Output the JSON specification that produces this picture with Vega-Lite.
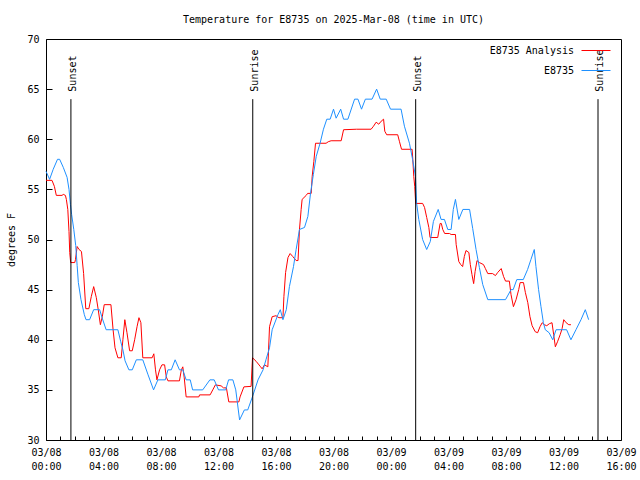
{
  "$schema": "https://vega.github.io/schema/vega-lite/v6.json",
  "width": 575,
  "height": 401,
  "autosize": "none",
  "padding": {"left": 46, "top": 39, "right": 19, "bottom": 40},
  "background": "white",
  "title": {"text": "Temperature for E8735 on 2025-Mar-08 (time in UTC)", "font": "DejaVu Sans Mono", "fontSize": 10, "fontWeight": "normal", "color": "black", "anchor": "middle", "offset": 9},
  "config": {"view": {"stroke": "black", "strokeWidth": 1}, "font": "DejaVu Sans Mono"},
  "datasets": {
    "analysis": [
      {"t":"2025-03-08T00:00:00Z","v":55.9},{"t":"2025-03-08T00:25:00Z","v":55.9},{"t":"2025-03-08T00:35:00Z","v":55.3},{"t":"2025-03-08T00:43:00Z","v":54.4},{"t":"2025-03-08T01:07:00Z","v":54.4},{"t":"2025-03-08T01:12:00Z","v":54.5},{"t":"2025-03-08T01:21:00Z","v":54.4},{"t":"2025-03-08T01:25:00Z","v":54.0},{"t":"2025-03-08T01:31:00Z","v":53.0},{"t":"2025-03-08T01:36:00Z","v":50.8},{"t":"2025-03-08T01:39:00Z","v":48.7},{"t":"2025-03-08T01:43:00Z","v":47.7},{"t":"2025-03-08T02:00:00Z","v":47.7},{"t":"2025-03-08T02:03:00Z","v":48.0},{"t":"2025-03-08T02:10:00Z","v":49.3},{"t":"2025-03-08T02:18:00Z","v":49.0},{"t":"2025-03-08T02:28:00Z","v":48.8},{"t":"2025-03-08T02:37:00Z","v":46.6},{"t":"2025-03-08T02:46:00Z","v":43.1},{"t":"2025-03-08T02:59:00Z","v":43.1},{"t":"2025-03-08T03:09:00Z","v":44.3},{"t":"2025-03-08T03:19:00Z","v":45.3},{"t":"2025-03-08T03:30:00Z","v":44.2},{"t":"2025-03-08T03:38:00Z","v":43.0},{"t":"2025-03-08T03:47:00Z","v":41.5},{"t":"2025-03-08T03:55:00Z","v":42.3},{"t":"2025-03-08T04:03:00Z","v":43.5},{"t":"2025-03-08T04:31:00Z","v":43.5},{"t":"2025-03-08T04:40:00Z","v":41.0},{"t":"2025-03-08T04:48:00Z","v":39.2},{"t":"2025-03-08T05:00:00Z","v":38.2},{"t":"2025-03-08T05:14:00Z","v":38.2},{"t":"2025-03-08T05:21:00Z","v":40.0},{"t":"2025-03-08T05:29:00Z","v":42.0},{"t":"2025-03-08T05:38:00Z","v":40.7},{"t":"2025-03-08T05:49:00Z","v":38.9},{"t":"2025-03-08T06:00:00Z","v":38.9},{"t":"2025-03-08T06:10:00Z","v":40.0},{"t":"2025-03-08T06:20:00Z","v":41.3},{"t":"2025-03-08T06:28:00Z","v":42.2},{"t":"2025-03-08T06:36:00Z","v":41.7},{"t":"2025-03-08T06:44:00Z","v":38.2},{"t":"2025-03-08T07:23:00Z","v":38.2},{"t":"2025-03-08T07:30:00Z","v":38.6},{"t":"2025-03-08T07:37:00Z","v":37.0},{"t":"2025-03-08T07:43:00Z","v":36.0},{"t":"2025-03-08T07:54:00Z","v":37.0},{"t":"2025-03-08T08:04:00Z","v":37.5},{"t":"2025-03-08T08:15:00Z","v":37.5},{"t":"2025-03-08T08:22:00Z","v":36.3},{"t":"2025-03-08T08:29:00Z","v":35.9},{"t":"2025-03-08T09:17:00Z","v":35.9},{"t":"2025-03-08T09:25:00Z","v":37.0},{"t":"2025-03-08T09:31:00Z","v":37.3},{"t":"2025-03-08T09:37:00Z","v":36.2},{"t":"2025-03-08T09:45:00Z","v":34.3},{"t":"2025-03-08T10:38:00Z","v":34.3},{"t":"2025-03-08T10:41:00Z","v":34.5},{"t":"2025-03-08T11:25:00Z","v":34.5},{"t":"2025-03-08T11:36:00Z","v":35.0},{"t":"2025-03-08T11:47:00Z","v":35.5},{"t":"2025-03-08T12:11:00Z","v":35.4},{"t":"2025-03-08T12:21:00Z","v":35.2},{"t":"2025-03-08T12:33:00Z","v":35.2},{"t":"2025-03-08T12:43:00Z","v":33.8},{"t":"2025-03-08T13:25:00Z","v":33.8},{"t":"2025-03-08T13:30:00Z","v":34.3},{"t":"2025-03-08T13:46:00Z","v":35.3},{"t":"2025-03-08T14:16:00Z","v":35.35},{"t":"2025-03-08T14:22:00Z","v":38.2},{"t":"2025-03-08T14:37:00Z","v":37.85},{"t":"2025-03-08T14:54:00Z","v":37.35},{"t":"2025-03-08T15:02:00Z","v":37.1},{"t":"2025-03-08T15:12:00Z","v":37.5},{"t":"2025-03-08T15:26:00Z","v":37.3},{"t":"2025-03-08T15:33:00Z","v":41.3},{"t":"2025-03-08T15:44:00Z","v":42.3},{"t":"2025-03-08T16:00:00Z","v":42.4},{"t":"2025-03-08T16:12:00Z","v":42.2},{"t":"2025-03-08T16:29:00Z","v":42.2},{"t":"2025-03-08T16:33:00Z","v":44.3},{"t":"2025-03-08T16:40:00Z","v":46.7},{"t":"2025-03-08T16:50:00Z","v":48.2},{"t":"2025-03-08T16:59:00Z","v":48.6},{"t":"2025-03-08T17:10:00Z","v":48.3},{"t":"2025-03-08T17:24:00Z","v":47.9},{"t":"2025-03-08T17:32:00Z","v":47.9},{"t":"2025-03-08T17:38:00Z","v":51.0},{"t":"2025-03-08T17:45:00Z","v":53.0},{"t":"2025-03-08T17:49:00Z","v":54.0},{"t":"2025-03-08T18:06:00Z","v":54.4},{"t":"2025-03-08T18:12:00Z","v":54.6},{"t":"2025-03-08T18:27:00Z","v":54.6},{"t":"2025-03-08T18:31:00Z","v":56.3},{"t":"2025-03-08T18:38:00Z","v":57.8},{"t":"2025-03-08T18:45:00Z","v":59.6},{"t":"2025-03-08T19:29:00Z","v":59.6},{"t":"2025-03-08T19:38:00Z","v":59.75},{"t":"2025-03-08T19:50:00Z","v":59.85},{"t":"2025-03-08T20:32:00Z","v":59.85},{"t":"2025-03-08T20:42:00Z","v":60.95},{"t":"2025-03-08T21:36:00Z","v":61.0},{"t":"2025-03-08T22:37:00Z","v":61.0},{"t":"2025-03-08T22:47:00Z","v":61.3},{"t":"2025-03-08T22:58:00Z","v":61.7},{"t":"2025-03-08T23:09:00Z","v":61.5},{"t":"2025-03-08T23:19:00Z","v":61.8},{"t":"2025-03-08T23:29:00Z","v":62.0},{"t":"2025-03-08T23:34:00Z","v":60.8},{"t":"2025-03-08T23:42:00Z","v":60.45},{"t":"2025-03-09T00:28:00Z","v":60.45},{"t":"2025-03-09T00:35:00Z","v":59.8},{"t":"2025-03-09T00:44:00Z","v":59.0},{"t":"2025-03-09T01:28:00Z","v":59.0},{"t":"2025-03-09T01:31:00Z","v":58.0},{"t":"2025-03-09T01:35:00Z","v":56.3},{"t":"2025-03-09T01:39:00Z","v":55.3},{"t":"2025-03-09T01:43:00Z","v":53.6},{"t":"2025-03-09T02:12:00Z","v":53.6},{"t":"2025-03-09T02:20:00Z","v":53.2},{"t":"2025-03-09T02:29:00Z","v":52.2},{"t":"2025-03-09T02:38:00Z","v":51.2},{"t":"2025-03-09T02:43:00Z","v":50.2},{"t":"2025-03-09T03:15:00Z","v":50.2},{"t":"2025-03-09T03:25:00Z","v":51.6},{"t":"2025-03-09T03:30:00Z","v":51.6},{"t":"2025-03-09T03:36:00Z","v":51.0},{"t":"2025-03-09T03:44:00Z","v":50.6},{"t":"2025-03-09T04:04:00Z","v":50.6},{"t":"2025-03-09T04:11:00Z","v":50.5},{"t":"2025-03-09T04:29:00Z","v":50.5},{"t":"2025-03-09T04:32:00Z","v":49.5},{"t":"2025-03-09T04:43:00Z","v":47.8},{"t":"2025-03-09T04:51:00Z","v":47.5},{"t":"2025-03-09T04:59:00Z","v":47.3},{"t":"2025-03-09T05:06:00Z","v":48.3},{"t":"2025-03-09T05:13:00Z","v":48.9},{"t":"2025-03-09T05:25:00Z","v":48.7},{"t":"2025-03-09T05:31:00Z","v":47.5},{"t":"2025-03-09T05:38:00Z","v":46.5},{"t":"2025-03-09T05:45:00Z","v":45.6},{"t":"2025-03-09T05:51:00Z","v":46.8},{"t":"2025-03-09T05:59:00Z","v":47.9},{"t":"2025-03-09T06:09:00Z","v":47.7},{"t":"2025-03-09T06:26:00Z","v":47.5},{"t":"2025-03-09T06:34:00Z","v":47.1},{"t":"2025-03-09T06:44:00Z","v":46.6},{"t":"2025-03-09T07:04:00Z","v":46.6},{"t":"2025-03-09T07:16:00Z","v":46.4},{"t":"2025-03-09T07:25:00Z","v":46.7},{"t":"2025-03-09T07:40:00Z","v":47.1},{"t":"2025-03-09T07:50:00Z","v":46.3},{"t":"2025-03-09T07:58:00Z","v":45.85},{"t":"2025-03-09T08:14:00Z","v":45.85},{"t":"2025-03-09T08:21:00Z","v":44.5},{"t":"2025-03-09T08:31:00Z","v":43.3},{"t":"2025-03-09T08:42:00Z","v":44.0},{"t":"2025-03-09T08:53:00Z","v":45.0},{"t":"2025-03-09T08:59:00Z","v":45.7},{"t":"2025-03-09T09:13:00Z","v":45.7},{"t":"2025-03-09T09:21:00Z","v":44.7},{"t":"2025-03-09T09:31:00Z","v":43.7},{"t":"2025-03-09T09:40:00Z","v":42.3},{"t":"2025-03-09T09:49:00Z","v":41.4},{"t":"2025-03-09T10:02:00Z","v":40.8},{"t":"2025-03-09T10:12:00Z","v":40.7},{"t":"2025-03-09T10:22:00Z","v":41.3},{"t":"2025-03-09T10:31:00Z","v":41.7},{"t":"2025-03-09T10:40:00Z","v":41.5},{"t":"2025-03-09T10:50:00Z","v":41.4},{"t":"2025-03-09T11:01:00Z","v":41.6},{"t":"2025-03-09T11:12:00Z","v":41.7},{"t":"2025-03-09T11:19:00Z","v":40.5},{"t":"2025-03-09T11:26:00Z","v":39.3},{"t":"2025-03-09T11:35:00Z","v":39.8},{"t":"2025-03-09T11:46:00Z","v":40.5},{"t":"2025-03-09T11:54:00Z","v":41.1},{"t":"2025-03-09T12:01:00Z","v":42.0},{"t":"2025-03-09T12:11:00Z","v":41.7},{"t":"2025-03-09T12:22:00Z","v":41.5},{"t":"2025-03-09T12:31:00Z","v":41.5}
    ],
    "obs": [
      {"t":"2025-03-08T00:00:00Z","v":56.8},{"t":"2025-03-08T00:15:00Z","v":56.0},{"t":"2025-03-08T00:30:00Z","v":57.0},{"t":"2025-03-08T00:48:00Z","v":58.0},{"t":"2025-03-08T00:57:00Z","v":58.0},{"t":"2025-03-08T01:12:00Z","v":57.2},{"t":"2025-03-08T01:28:00Z","v":56.2},{"t":"2025-03-08T01:36:00Z","v":55.0},{"t":"2025-03-08T01:42:00Z","v":53.5},{"t":"2025-03-08T01:47:00Z","v":52.5},{"t":"2025-03-08T01:56:00Z","v":51.0},{"t":"2025-03-08T02:04:00Z","v":49.4},{"t":"2025-03-08T02:10:00Z","v":47.4},{"t":"2025-03-08T02:15:00Z","v":45.7},{"t":"2025-03-08T02:26:00Z","v":44.0},{"t":"2025-03-08T02:40:00Z","v":42.5},{"t":"2025-03-08T02:47:00Z","v":42.0},{"t":"2025-03-08T03:02:00Z","v":42.0},{"t":"2025-03-08T03:19:00Z","v":43.0},{"t":"2025-03-08T03:44:00Z","v":43.0},{"t":"2025-03-08T03:54:00Z","v":42.2},{"t":"2025-03-08T04:11:00Z","v":41.0},{"t":"2025-03-08T05:00:00Z","v":41.0},{"t":"2025-03-08T05:12:00Z","v":39.8},{"t":"2025-03-08T05:21:00Z","v":39.0},{"t":"2025-03-08T05:30:00Z","v":37.9},{"t":"2025-03-08T05:46:00Z","v":37.0},{"t":"2025-03-08T06:00:00Z","v":37.0},{"t":"2025-03-08T06:17:00Z","v":38.0},{"t":"2025-03-08T06:44:00Z","v":38.0},{"t":"2025-03-08T07:06:00Z","v":36.5},{"t":"2025-03-08T07:29:00Z","v":35.0},{"t":"2025-03-08T07:47:00Z","v":36.0},{"t":"2025-03-08T08:18:00Z","v":36.0},{"t":"2025-03-08T08:29:00Z","v":37.0},{"t":"2025-03-08T08:43:00Z","v":37.0},{"t":"2025-03-08T08:59:00Z","v":38.0},{"t":"2025-03-08T09:17:00Z","v":37.0},{"t":"2025-03-08T09:31:00Z","v":37.0},{"t":"2025-03-08T09:45:00Z","v":36.0},{"t":"2025-03-08T10:02:00Z","v":36.0},{"t":"2025-03-08T10:12:00Z","v":35.0},{"t":"2025-03-08T10:54:00Z","v":35.0},{"t":"2025-03-08T11:24:00Z","v":36.0},{"t":"2025-03-08T11:42:00Z","v":36.0},{"t":"2025-03-08T12:00:00Z","v":35.0},{"t":"2025-03-08T12:30:00Z","v":35.0},{"t":"2025-03-08T12:42:00Z","v":36.0},{"t":"2025-03-08T13:00:00Z","v":36.0},{"t":"2025-03-08T13:12:00Z","v":35.0},{"t":"2025-03-08T13:28:00Z","v":32.0},{"t":"2025-03-08T13:48:00Z","v":33.0},{"t":"2025-03-08T14:02:00Z","v":33.0},{"t":"2025-03-08T14:23:00Z","v":34.4},{"t":"2025-03-08T14:45:00Z","v":36.0},{"t":"2025-03-08T15:06:00Z","v":37.0},{"t":"2025-03-08T15:18:00Z","v":38.0},{"t":"2025-03-08T15:33:00Z","v":39.2},{"t":"2025-03-08T15:44:00Z","v":41.0},{"t":"2025-03-08T16:08:00Z","v":42.5},{"t":"2025-03-08T16:18:00Z","v":43.0},{"t":"2025-03-08T16:29:00Z","v":42.0},{"t":"2025-03-08T16:43:00Z","v":43.0},{"t":"2025-03-08T16:56:00Z","v":45.3},{"t":"2025-03-08T17:13:00Z","v":47.3},{"t":"2025-03-08T17:24:00Z","v":49.0},{"t":"2025-03-08T17:38:00Z","v":51.0},{"t":"2025-03-08T17:59:00Z","v":51.2},{"t":"2025-03-08T18:13:00Z","v":52.3},{"t":"2025-03-08T18:24:00Z","v":54.6},{"t":"2025-03-08T18:36:00Z","v":56.5},{"t":"2025-03-08T18:48:00Z","v":58.3},{"t":"2025-03-08T19:04:00Z","v":59.6},{"t":"2025-03-08T19:18:00Z","v":61.0},{"t":"2025-03-08T19:32:00Z","v":62.0},{"t":"2025-03-08T19:46:00Z","v":62.0},{"t":"2025-03-08T20:00:00Z","v":63.0},{"t":"2025-03-08T20:11:00Z","v":62.1},{"t":"2025-03-08T20:30:00Z","v":63.0},{"t":"2025-03-08T20:42:00Z","v":62.0},{"t":"2025-03-08T21:00:00Z","v":62.0},{"t":"2025-03-08T21:28:00Z","v":64.0},{"t":"2025-03-08T21:42:00Z","v":64.0},{"t":"2025-03-08T21:57:00Z","v":63.0},{"t":"2025-03-08T22:13:00Z","v":64.0},{"t":"2025-03-08T22:41:00Z","v":64.0},{"t":"2025-03-08T23:00:00Z","v":65.0},{"t":"2025-03-08T23:15:00Z","v":64.0},{"t":"2025-03-08T23:40:00Z","v":64.0},{"t":"2025-03-08T23:58:00Z","v":63.0},{"t":"2025-03-09T00:42:00Z","v":63.0},{"t":"2025-03-09T00:56:00Z","v":61.3},{"t":"2025-03-09T01:17:00Z","v":59.6},{"t":"2025-03-09T01:30:00Z","v":58.0},{"t":"2025-03-09T01:42:00Z","v":56.3},{"t":"2025-03-09T01:47:00Z","v":53.6},{"t":"2025-03-09T01:56:00Z","v":52.0},{"t":"2025-03-09T02:12:00Z","v":50.0},{"t":"2025-03-09T02:29:00Z","v":49.0},{"t":"2025-03-09T02:44:00Z","v":49.8},{"t":"2025-03-09T02:57:00Z","v":51.8},{"t":"2025-03-09T03:17:00Z","v":53.0},{"t":"2025-03-09T03:29:00Z","v":52.0},{"t":"2025-03-09T03:43:00Z","v":52.0},{"t":"2025-03-09T03:57:00Z","v":51.0},{"t":"2025-03-09T04:11:00Z","v":51.0},{"t":"2025-03-09T04:20:00Z","v":53.0},{"t":"2025-03-09T04:29:00Z","v":54.0},{"t":"2025-03-09T04:43:00Z","v":52.0},{"t":"2025-03-09T05:00:00Z","v":53.0},{"t":"2025-03-09T05:28:00Z","v":53.0},{"t":"2025-03-09T05:41:00Z","v":51.1},{"t":"2025-03-09T05:55:00Z","v":49.0},{"t":"2025-03-09T06:09:00Z","v":47.2},{"t":"2025-03-09T06:23:00Z","v":45.5},{"t":"2025-03-09T06:44:00Z","v":44.0},{"t":"2025-03-09T07:58:00Z","v":44.0},{"t":"2025-03-09T08:21:00Z","v":45.0},{"t":"2025-03-09T08:30:00Z","v":45.0},{"t":"2025-03-09T08:45:00Z","v":46.0},{"t":"2025-03-09T09:12:00Z","v":46.0},{"t":"2025-03-09T09:30:00Z","v":47.0},{"t":"2025-03-09T09:44:00Z","v":48.0},{"t":"2025-03-09T09:58:00Z","v":49.0},{"t":"2025-03-09T10:05:00Z","v":47.3},{"t":"2025-03-09T10:16:00Z","v":45.0},{"t":"2025-03-09T10:26:00Z","v":43.3},{"t":"2025-03-09T10:36:00Z","v":41.7},{"t":"2025-03-09T10:44:00Z","v":41.0},{"t":"2025-03-09T11:00:00Z","v":40.7},{"t":"2025-03-09T11:15:00Z","v":40.0},{"t":"2025-03-09T11:29:00Z","v":41.0},{"t":"2025-03-09T12:13:00Z","v":41.0},{"t":"2025-03-09T12:31:00Z","v":40.0},{"t":"2025-03-09T12:52:00Z","v":41.0},{"t":"2025-03-09T13:13:00Z","v":42.0},{"t":"2025-03-09T13:31:00Z","v":43.0},{"t":"2025-03-09T13:45:00Z","v":42.0}
    ],
    "sun": [
      {"t":"2025-03-08T01:44:00Z","label":"Sunset"},
      {"t":"2025-03-08T14:23:00Z","label":"Sunrise"},
      {"t":"2025-03-09T01:43:00Z","label":"Sunset"},
      {"t":"2025-03-09T14:24:00Z","label":"Sunrise"}
    ]
  },
  "encoding": {
    "x": {"field": "t", "type": "temporal",
      "scale": {"type": "utc", "domain": [{"year": 2025, "month": 3, "date": 8, "hours": 0, "utc": true}, {"year": 2025, "month": 3, "date": 9, "hours": 16, "utc": true}], "nice": false},
      "axis": {"orient": "bottom", "title": null, "domain": false, "grid": false, "tickSize": -4, "tickColor": "black",
        "values": [1741392000000, 1741395600000, 1741399200000, 1741402800000, 1741406400000, 1741410000000, 1741413600000, 1741417200000, 1741420800000, 1741424400000, 1741428000000, 1741431600000, 1741435200000, 1741438800000, 1741442400000, 1741446000000, 1741449600000, 1741453200000, 1741456800000, 1741460400000, 1741464000000, 1741467600000, 1741471200000, 1741474800000, 1741478400000, 1741482000000, 1741485600000, 1741489200000, 1741492800000, 1741496400000, 1741500000000, 1741503600000, 1741507200000, 1741510800000, 1741514400000, 1741518000000, 1741521600000, 1741525200000, 1741528800000, 1741532400000, 1741536000000],
        "labelExpr": "utchours(datum.value) % 4 == 0 ? [utcFormat(datum.value, '%m/%d'), utcFormat(datum.value, '%H:%M')] : ''",
        "labelColor": "black", "labelFont": "DejaVu Sans Mono", "labelFontSize": 10, "labelLineHeight": 14, "labelBaseline": "top", "labelPadding": 11, "labelFlush": false, "labelOverlap": false}}
  },
  "layer": [
    {
      "data": {"name": "analysis"},
      "mark": {"type": "line", "strokeWidth": 1},
      "encoding": {
        "y": {"field": "v", "type": "quantitative",
          "scale": {"domain": [30, 70], "nice": false, "zero": false},
          "axis": {"orient": "left", "title": "degrees F", "domain": false, "grid": false,
            "values": [30, 35, 40, 45, 50, 55, 60, 65, 70], "tickSize": -6, "tickColor": "black",
            "labelFont": "DejaVu Sans Mono", "labelFontSize": 10, "labelColor": "black", "labelPadding": 13,
            "titleFont": "DejaVu Sans Mono", "titleFontSize": 10, "titleFontWeight": "normal", "titleColor": "black", "titlePadding": 10}},
        "color": {"datum": "E8735 Analysis", "type": "nominal",
          "scale": {"domain": ["E8735 Analysis", "E8735"], "range": ["#ff0000", "#1e90ff"]},
          "legend": {"orient": "none", "legendX": 535, "legendY": -3.5, "title": null,
            "symbolType": "stroke", "symbolSize": 841, "symbolStrokeWidth": 1,
            "labelAlign": "right", "labelOffset": -37,
            "rowPadding": -6.3, "padding": 0,
            "labelFont": "DejaVu Sans Mono", "labelFontSize": 10, "labelColor": "black"}}
      }
    },
    {
      "data": {"name": "obs"},
      "mark": {"type": "line", "strokeWidth": 1},
      "encoding": {
        "y": {"field": "v", "type": "quantitative"},
        "color": {"datum": "E8735", "type": "nominal"}
      }
    },
    {
      "data": {"name": "sun"},
      "mark": {"type": "rule", "color": "black", "strokeWidth": 1},
      "encoding": {
        "y": {"datum": 64, "type": "quantitative"},
        "y2": {"datum": 30}
      }
    },
    {
      "data": {"name": "sun"},
      "mark": {"type": "text", "angle": 270, "align": "left", "baseline": "alphabetic", "dx": 7.5, "dy": 5, "font": "DejaVu Sans Mono", "fontSize": 10, "color": "black"},
      "encoding": {
        "y": {"datum": 64, "type": "quantitative"},
        "text": {"field": "label"}
      }
    }
  ]
}
